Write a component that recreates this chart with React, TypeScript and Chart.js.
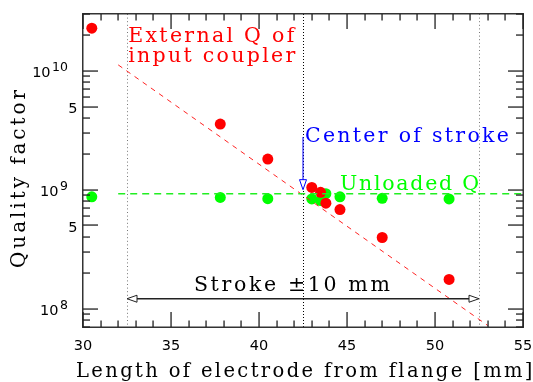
import React, { useEffect, useRef } from "react";
import { Chart, registerables } from "chart.js";
Chart.register(...registerables);

// Electrode length [mm]
const electrodeLength = [30.5, 37.8, 40.5, 43.0, 43.5, 43.8, 44.6, 47.0, 50.8];
// External Q of input coupler
const externalQ = [2.28e10, 3.56e9, 1.81e9, 1.045e9, 9.5e8, 7.7e8, 6.8e8, 3.96e8, 1.76e8];
// Unloaded Q
const unloadedQ = [8.7e8, 8.6e8, 8.4e8, 8.36e8, 8.1e8, 9.25e8, 8.7e8, 8.45e8, 8.36e8];

// Fit lines
const externalFitLength = [32.0, 53.0];
const externalFitQ = [1.12e10, 7.2e7];
const unloadedFitLength = [32.0, 55.0];
const unloadedFitQ = [9.25e8, 9.25e8];

// Stroke
const strokeCenter = 42.5;
const strokeHalf = 10;

// Axes
const xMin = 30;
const xMax = 55;
const yMin = 7e7;
const yMax = 3e10;
const xTickLabels = [30, 35, 40, 45, 50, 55];
const yTickLabels = [1e8, 5e8, 1e9, 5e9, 1e10];

const xTitle = "Length of electrode from flange [mm]";
const yTitle = "Quality factor";

function fitText(
  ctx: CanvasRenderingContext2D,
  text: string,
  x: number,
  y: number,
  targetW: number,
  font: string,
  color: string
) {
  ctx.save();
  ctx.font = font;
  (ctx as any).letterSpacing = "0px";
  const w = ctx.measureText(text).width;
  const n = Array.from(text).length;
  const ls = n > 1 ? (targetW - w) / (n - 1) : 0;
  (ctx as any).letterSpacing = ls + "px";
  ctx.fillStyle = color;
  ctx.textAlign = "left";
  ctx.textBaseline = "alphabetic";
  ctx.fillText(text, x, y);
  ctx.restore();
}

function openArrow(
  ctx: CanvasRenderingContext2D,
  tipX: number,
  tipY: number,
  dirX: number,
  dirY: number,
  color: string
) {
  const len = 10;
  const hw = 3.5;
  const bx = tipX - dirX * len;
  const by = tipY - dirY * len;
  const px = -dirY;
  const py = dirX;
  ctx.beginPath();
  ctx.moveTo(tipX, tipY);
  ctx.lineTo(bx + px * hw, by + py * hw);
  ctx.lineTo(bx - px * hw, by - py * hw);
  ctx.closePath();
  ctx.fillStyle = "#fff";
  ctx.fill();
  ctx.strokeStyle = color;
  ctx.lineWidth = 1;
  ctx.stroke();
}

export default function App() {
  const ref = useRef<HTMLCanvasElement>(null);

  useEffect(() => {
    const canvas = ref.current!;
    const annFont = '20.5px "DejaVu Serif"';
    const tickFont = '14.5px "DejaVu Sans"';
    const supFont = '12.5px "DejaVu Sans"';

    const overlay = {
      id: "overlay",
      beforeDatasetsDraw(chart: any) {
        const ctx: CanvasRenderingContext2D = chart.ctx;
        const xs = chart.scales.x;
        const a = chart.chartArea;
        ctx.save();
        const lines = [strokeCenter - strokeHalf, strokeCenter, strokeCenter + strokeHalf];
        lines.forEach((v, i) => {
          const px = Math.round(xs.getPixelForValue(v)) + 0.5;
          ctx.beginPath();
          ctx.setLineDash(i === 1 ? [1, 2] : [1, 2.6]);
          ctx.strokeStyle = i === 1 ? "#000" : "#777";
          ctx.lineWidth = 1;
          ctx.moveTo(px, a.top);
          ctx.lineTo(px, a.bottom);
          ctx.stroke();
        });
        ctx.restore();
      },
      afterDraw(chart: any) {
        const ctx: CanvasRenderingContext2D = chart.ctx;
        const xs = chart.scales.x;
        const ys = chart.scales.y;
        const a = chart.chartArea;
        ctx.save();
        ctx.setLineDash([]);

        // Stroke arrow
        const sy = ys.getPixelForValue(1.21e8);
        const sx1 = xs.getPixelForValue(strokeCenter - strokeHalf);
        const sx2 = xs.getPixelForValue(strokeCenter + strokeHalf);
        ctx.strokeStyle = "#222";
        ctx.lineWidth = 1.5;
        ctx.beginPath();
        ctx.moveTo(sx1 + 8, sy);
        ctx.lineTo(sx2 - 8, sy);
        ctx.stroke();
        openArrow(ctx, sx1, sy, -1, 0, "#222");
        openArrow(ctx, sx2, sy, 1, 0, "#222");

        // Center of stroke arrow
        const cx = xs.getPixelForValue(strokeCenter);
        const cy1 = ys.getPixelForValue(2.77e9);
        const cy2 = ys.getPixelForValue(1.0e9);
        ctx.strokeStyle = "#0000ff";
        ctx.lineWidth = 1;
        ctx.beginPath();
        ctx.moveTo(cx, cy1);
        ctx.lineTo(cx, cy2 - 8);
        ctx.stroke();
        openArrow(ctx, cx, cy2, 0, 1, "#0000ff");

        // Annotations
        fitText(ctx, "External Q of", xs.getPixelForValue(32.57), ys.getPixelForValue(1.75e10), 166, annFont, "#ff0000");
        fitText(ctx, "input coupler", xs.getPixelForValue(32.57), ys.getPixelForValue(1.19e10), 167, annFont, "#ff0000");
        fitText(ctx, "Center of stroke", xs.getPixelForValue(42.61), ys.getPixelForValue(2.51e9), 204, annFont, "#0000ff");
        fitText(ctx, "Unloaded Q", xs.getPixelForValue(44.6), ys.getPixelForValue(1.0e9), 139, annFont, "#00ff00");
        fitText(ctx, "Stroke \u00B110 mm", xs.getPixelForValue(36.3), ys.getPixelForValue(1.41e8), 196, annFont, "#000");

        // Frame (filled rectangles)
        ctx.fillStyle = "#333";
        const L = Math.round(a.left), R = Math.round(a.right), T = Math.round(a.top), B = Math.round(a.bottom);
        ctx.fillRect(L - 1, T - 1, R - L + 2, 1.5);
        ctx.fillRect(L - 1, B - 0.5, R - L + 2, 1.5);
        ctx.fillRect(L - 1, T - 1, 1.5, B - T + 2);
        ctx.fillRect(R - 0.5, T - 1, 1.5, B - T + 2);

        // X ticks
        ctx.fillStyle = "#222";
        for (let v = xMin; v <= xMax; v++) {
          const px = Math.round(xs.getPixelForValue(v));
          const len = v % 5 === 0 ? 15 : 6.5;
          ctx.fillRect(px - 0.6, B - len, 1.3, len);
          ctx.fillRect(px - 0.6, T, 1.3, len);
        }
        // Y ticks
        for (let d = 7; d <= 10; d++) {
          for (let m = 1; m <= 9; m++) {
            const v = m * Math.pow(10, d);
            if (v < yMin * 0.999 || v > yMax * 1.001) continue;
            const py = Math.round(ys.getPixelForValue(v));
            const len = m === 1 || m === 5 ? 15 : 7;
            ctx.fillRect(L, py - 0.6, len, 1.3);
            ctx.fillRect(R - len, py - 0.6, len, 1.3);
          }
        }

        // X tick labels
        ctx.fillStyle = "#000";
        ctx.font = tickFont;
        ctx.textAlign = "center";
        ctx.textBaseline = "alphabetic";
        xTickLabels.forEach((v) => {
          ctx.fillText(String(v), xs.getPixelForValue(v), 350);
        });

        // Y tick labels
        yTickLabels.forEach((v) => {
          const py = ys.getPixelForValue(v);
          const exp = Math.floor(Math.log10(v) + 1e-9);
          const mant = Math.round(v / Math.pow(10, exp));
          if (mant === 1) {
            ctx.font = supFont;
            ctx.textAlign = "right";
            const sup = String(exp);
            const supW = ctx.measureText(sup).width;
            ctx.fillText(sup, 68, py + 0.5);
            ctx.font = tickFont;
            ctx.fillText("10", 68 - supW - 1.5, py + 6.5);
          } else {
            ctx.font = tickFont;
            ctx.textAlign = "right";
            ctx.fillText(String(mant), 77.5, py + 6.5);
          }
        });

        // Axis titles
        fitText(ctx, xTitle, 76, 377, 456, '19.5px "DejaVu Serif"', "#000");
        ctx.save();
        ctx.translate(25, 268);
        ctx.rotate(-Math.PI / 2);
        fitText(ctx, yTitle, 0, 0, 178, '20px "DejaVu Serif"', "#000");
        ctx.restore();

        ctx.restore();
      },
    };

    const pts = (xsArr: number[], ysArr: number[]) => xsArr.map((x, i) => ({ x, y: ysArr[i] }));

    const chart = new Chart(canvas, {
      type: "scatter",
      data: {
        datasets: [
          {
            label: "Unloaded Q fit",
            data: pts(unloadedFitLength, unloadedFitQ),
            showLine: true,
            borderColor: "#22ee22",
            borderWidth: 1.5,
            borderDash: [7, 5],
            pointRadius: 0,
          },
          {
            label: "External Q fit",
            data: pts(externalFitLength, externalFitQ),
            showLine: true,
            borderColor: "#ff2222",
            borderWidth: 1,
            borderDash: [5, 5],
            pointRadius: 0,
          },
          {
            label: "External Q",
            data: pts(electrodeLength, externalQ),
            showLine: false,
            pointRadius: 5.5,
            pointBackgroundColor: "#ff0000",
            pointBorderWidth: 0,
            borderColor: "#ff0000",
          },
          {
            label: "Unloaded Q",
            data: pts(electrodeLength, unloadedQ),
            showLine: false,
            pointRadius: 5.5,
            pointBackgroundColor: "#00ff00",
            pointBorderWidth: 0,
            borderColor: "#00ff00",
          },
        ],
      },
      options: {
        responsive: false,
        animation: false,
        devicePixelRatio: 1,
        layout: { padding: { left: 83, top: 14, right: 10, bottom: 55 } },
        plugins: { legend: { display: false }, tooltip: { enabled: false } },
        scales: {
          x: { type: "linear", min: xMin, max: xMax, display: false },
          y: { type: "logarithmic", min: yMin, max: yMax, display: false },
        },
      },
      plugins: [overlay],
    } as any);

    return () => chart.destroy();
  }, []);

  return (
    <div style={{ position: "absolute", left: 0, top: 0, width: 533, height: 382, background: "#fff" }}>
      <canvas ref={ref} width={533} height={382} style={{ display: "block", width: 533, height: 382 }} />
    </div>
  );
}
